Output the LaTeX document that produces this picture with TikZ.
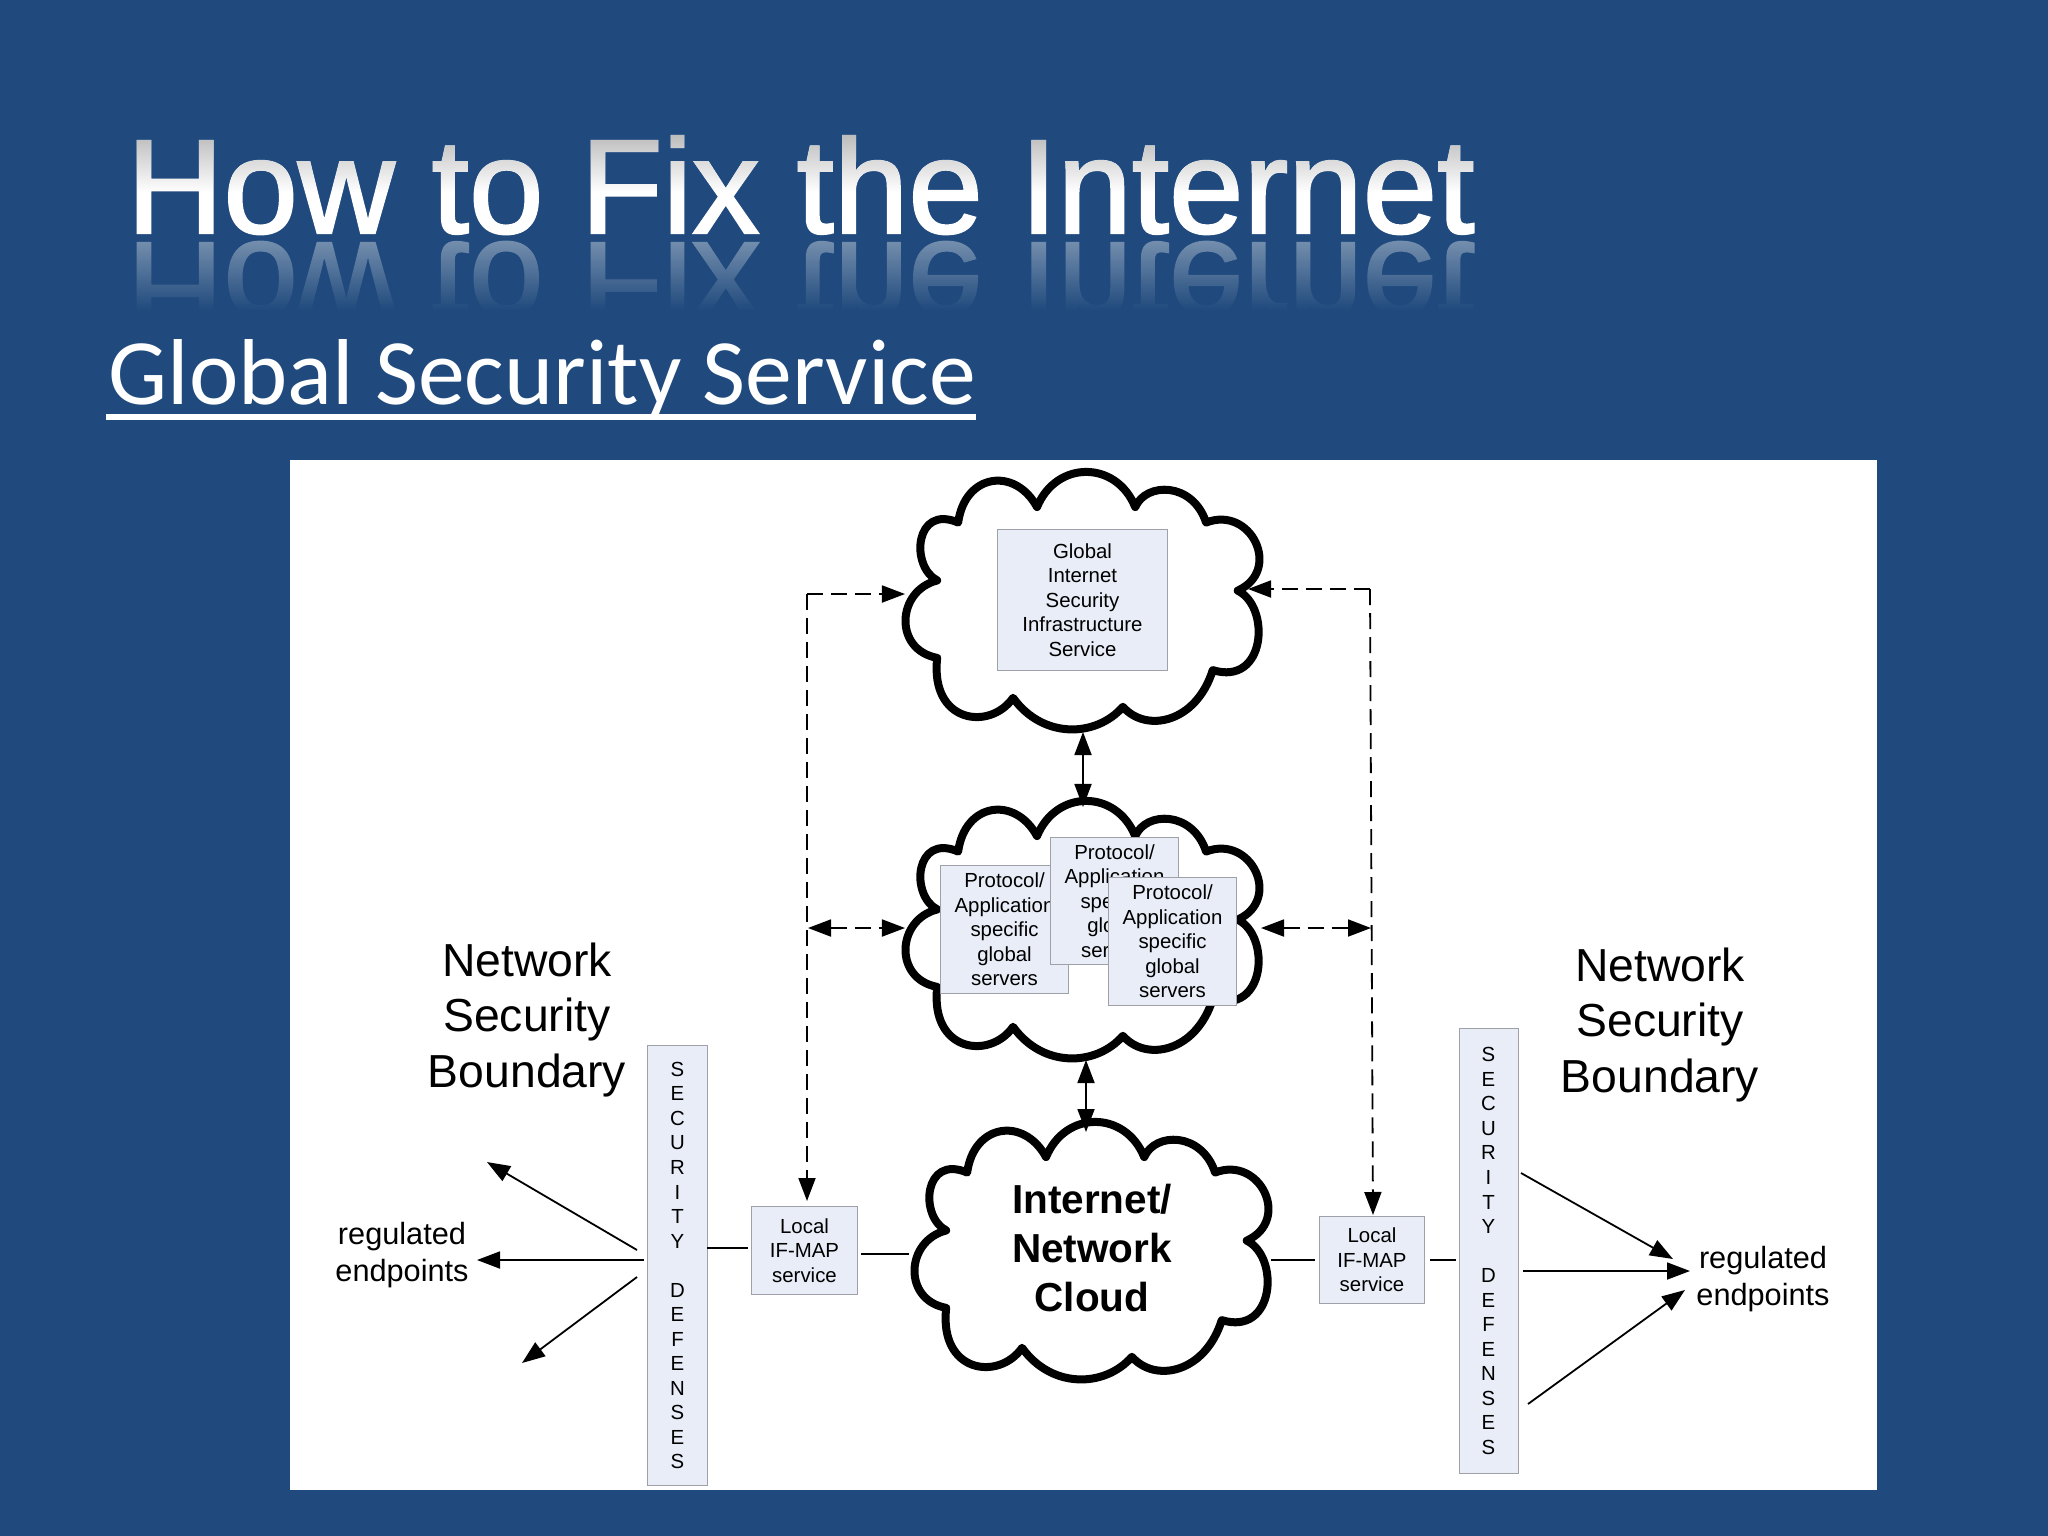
\documentclass[tikz,border=0pt]{standalone}
\usepackage{fontspec}
\setmainfont{Liberation Sans}
\newfontfamily\subfont{Carlito}
\newfontfamily\titlefont[FakeBold=1.6]{Liberation Sans}
\usepackage{tikz}
\usetikzlibrary{arrows.meta}
\definecolor{slideblue}{RGB}{32,74,125}
\definecolor{boxfill}{RGB}{233,237,247}
\definecolor{boxline}{RGB}{160,160,168}
\tikzstyle{cloudline}=[line width=0.08cm, line join=round, draw=black, fill=white]
\tikzstyle{link}=[line width=0.018cm, -{Triangle[length=0.23cm,width=0.17cm]}]
\tikzstyle{both}=[line width=0.018cm, {Triangle[length=0.23cm,width=0.17cm]}-{Triangle[length=0.23cm,width=0.17cm]}]
\tikzstyle{dash16}=[dash pattern=on 0.16cm off 0.08cm]
\tikzstyle{plain}=[line width=0.018cm]
\tikzstyle{infobox}=[draw=boxline, fill=boxfill, line width=0.01cm, inner sep=0, align=center, font=\fontsize{5.8}{6.97}\selectfont]
\tikzstyle{boundary}=[inner sep=0, align=center, font=\fontsize{13.17}{15.8}\selectfont]
\tikzstyle{endpoints}=[inner sep=0, align=center, font=\fontsize{8.73}{10.41}\selectfont]
\tikzstyle{titletext}=[inner sep=0, anchor=base west, text=white, font=\titlefont\fontsize{38.1}{44}\selectfont]
\newcommand{\titlestring}{How to Fix the Internet}
\newcommand{\defensestring}{S\\E\\C\\U\\R\\I\\T\\Y\\[0.245cm]D\\E\\F\\E\\N\\S\\E\\S}
% one cloud, outline traced once
\newcommand{\cloudat}[2]{
\draw[cloudline, shift={(#1,#2)}, x=0.00333cm, y=-0.00408cm]
	(262,320) .. controls (180,285) and (195,132) .. (325,178)
	.. controls (345,58) and (495,40) .. (562,140)
	.. controls (620,25) and (800,25) .. (857,140)
	.. controls (890,78) and (1030,78) .. (1070,178)
	.. controls (1205,135) and (1300,295) .. (1165,345)
	.. controls (1265,385) and (1250,580) .. (1090,540)
	.. controls (1040,670) and (890,695) .. (820,630)
	.. controls (740,705) and (580,710) .. (490,608)
	.. controls (420,690) and (240,670) .. (262,510)
	.. controls (130,490) and (140,345) .. cycle;
}

\begin{document}
\begin{tikzpicture}[x=0.01cm, y=-0.01cm]
\useasboundingbox (0,0) rectangle (2048,1536);
\fill[slideblue] (0,0) rectangle (2048,1536);
\fill[white] (290,460) rectangle (1877,1490);
% title and its reflection
\node[titletext] (title) at (126,233) {\titlestring};
\foreach \i in {0,...,31} {
	\pgfmathsetmacro{\graylevel}{28*(1-\i/31)}
	\fill[black!\graylevel, blend mode=darken] (100,{130+2*\i}) rectangle (1500,{132+2*\i});
}
\node[titletext, yscale=-1, transform shape] (titlemirror) at (126,243) {\titlestring};
\foreach \i in {0,...,35} {
	\pgfmathsetmacro{\fadelevel}{0.62+0.38*\i/35}
	\fill[slideblue, opacity=\fadelevel] (100,{240+2*\i}) rectangle (1500,{242+2*\i});
}
\fill[slideblue] (100,312) rectangle (1500,350);
\node[inner sep=0, anchor=base west, text=white, font=\subfont\fontsize{26.63}{30}\selectfont] (subtitle) at (108,404) {Global Security Service};
\coordinate (ul) at (106,417);
\coordinate (ur) at (976,417);
\draw[white, line width=0.06cm] (ul) -- (ur);
% clouds
\cloudat{850}{450}
\cloudat{850}{779}
\cloudat{859}{1100}
% boxes
\node[infobox, minimum width=1.69cm, minimum height=1.40cm] (gisis) at (1082.5,600) {Global\\Internet\\Security\\Infrastructure\\Service};
\node[infobox, minimum width=1.27cm, minimum height=1.27cm] (pasa) at (1004.5,929.5) {Protocol/\\Application\\specific\\global\\servers};
\node[infobox, minimum width=1.27cm, minimum height=1.27cm] (pasb) at (1114.5,901) {Protocol/\\Application\\specific\\global\\servers};
\node[infobox, minimum width=1.27cm, minimum height=1.27cm] (pasc) at (1172.5,941.5) {Protocol/\\Application\\specific\\global\\servers};
\node[infobox, minimum width=1.05cm, minimum height=0.87cm] (mapl) at (804.5,1250.5) {Local\\IF-MAP\\service};
\node[infobox, minimum width=1.04cm, minimum height=0.86cm] (mapr) at (1372,1260) {Local\\IF-MAP\\service};
\node[infobox, minimum width=0.59cm, minimum height=4.39cm] (defl) at (677.5,1265.5) {\defensestring};
\node[infobox, minimum width=0.59cm, minimum height=4.44cm] (defr) at (1488.5,1251) {\defensestring};
% labels
\node[inner sep=0, align=center, font=\fontsize{11.52}{14.03}\bfseries\selectfont] (inet) at (1092,1248) {Internet/\\Network\\Cloud};
\node[boundary] (nsbl) at (527,1020) {Network\\Security\\Boundary};
\node[boundary] (nsbr) at (1660,1025) {Network\\Security\\Boundary};
\node[endpoints] (epl) at (402,1255) {regulated\\endpoints};
\node[endpoints] (epr) at (1763,1279) {regulated\\endpoints};
% connector ends
\coordinate (ltop) at (807,594);
\coordinate (lcl) at (905,594);
\coordinate (lbot) at (807,1201);
\coordinate (lmid) at (808,928);
\coordinate (lcm) at (905,928);
\coordinate (rtop) at (1370,589);
\coordinate (rcl) at (1248,589);
\coordinate (rbot) at (1373,1215);
\coordinate (rmid) at (1371,928);
\coordinate (rcm) at (1261,928);
\coordinate (ca) at (1083,732);
\coordinate (cb) at (1083,807);
\coordinate (cc) at (1086,1060);
\coordinate (cd) at (1086,1132);
% dashed links
\draw[link, dash16] (ltop) -- (lcl);
\draw[link, dash16] (ltop) -- (lbot);
\draw[link, dash16] (rtop) -- (rcl);
\draw[link, dash16] (rtop) -- (rbot);
\draw[both, dash16] (lmid) -- (lcm);
\draw[both, dash16] (rcm) -- (rmid);
\draw[both] (ca) -- (cb);
\draw[both] (cc) -- (cd);
% short lines round the IF-MAP boxes
\coordinate (sa) at (707,1248);
\coordinate (sb) at (748,1248);
\coordinate (sc) at (861,1254);
\coordinate (sd) at (909,1254);
\coordinate (se) at (1271,1260);
\coordinate (sf) at (1315,1260);
\coordinate (sg) at (1430,1260);
\coordinate (sh) at (1456,1260);
\draw[plain] (sa) -- (sb);
\draw[plain] (sc) -- (sd);
\draw[plain] (se) -- (sf);
\draw[plain] (sg) -- (sh);
% endpoint fans
\coordinate (fa) at (637,1250);
\coordinate (fb) at (487,1162);
\coordinate (fc) at (644,1260);
\coordinate (fd) at (477,1260);
\coordinate (fe) at (637,1277);
\coordinate (ff) at (522,1363);
\coordinate (ga) at (1521,1173);
\coordinate (gb) at (1673,1259);
\coordinate (gc) at (1523,1271);
\coordinate (gd) at (1690,1271);
\coordinate (ge) at (1528,1404);
\coordinate (gf) at (1685,1290);
\draw[link] (fa) -- (fb);
\draw[link] (fc) -- (fd);
\draw[link] (fe) -- (ff);
\draw[link] (ga) -- (gb);
\draw[link] (gc) -- (gd);
\draw[link] (ge) -- (gf);
\end{tikzpicture}
\end{document}
